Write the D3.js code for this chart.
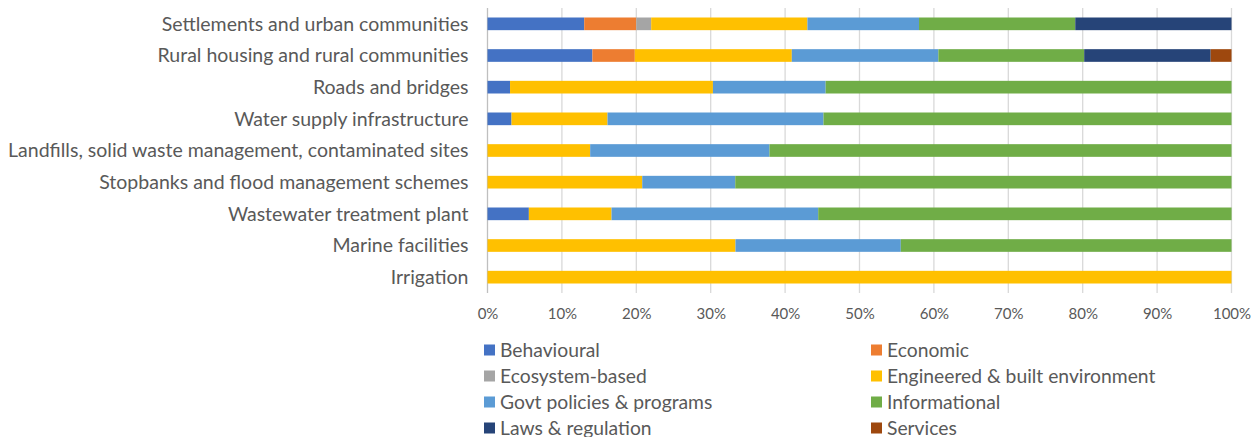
<!DOCTYPE html>
<html><head><meta charset="utf-8">
<script src="https://cdn.jsdelivr.net/npm/d3@7"></script>
<style>body{margin:0;background:#fff}svg{display:block}</style>
</head><body>
<svg id="c" width="1253" height="437"></svg>
<script>
const categories = ["Settlements and urban communities","Rural housing and rural communities","Roads and bridges","Water supply infrastructure","Landfills, solid waste management, contaminated sites","Stopbanks and flood management schemes","Wastewater treatment plant","Marine facilities","Irrigation"];
const seriesNames = ["Behavioural","Economic","Ecosystem-based","Engineered & built environment","Govt policies & programs","Informational","Laws & regulation","Services"];
const seriesColors = ["#4472C4","#ED7D31","#A5A5A5","#FFC000","#5B9BD5","#70AD47","#264478","#9E480E"];
const behavioural   = [13.0,14.1,3.03,3.23,0,0,5.56,0,0];
const economic      = [7.0,5.7,0,0,0,0,0,0,0];
const ecosystem     = [2.0,0,0,0,0,0,0,0,0];
const engineered    = [21.0,21.1,27.27,12.90,13.8,20.8,11.11,33.33,100];
const govt          = [15.0,19.7,15.15,29.03,24.1,12.5,27.78,22.22,0];
const informational = [21.0,19.6,54.55,54.84,62.1,66.7,55.56,44.45,0];
const laws          = [21.0,17.0,0,0,0,0,0,0,0];
const services      = [0,2.8,0,0,0,0,0,0,0];
const tickValues = [0,10,20,30,40,50,60,70,80,90,100];

const seriesVals = [behavioural,economic,ecosystem,engineered,govt,informational,laws,services];
const rows = categories.map((c,i)=>{const o={cat:c};seriesNames.forEach((s,j)=>o[s]=seriesVals[j][i]);return o;});
const stack = d3.stack().keys(seriesNames)(rows);

const svg = d3.select("#c");
const font = "Lato, 'Open Sans', sans-serif";
const x = d3.scaleLinear().domain([0,100]).range([487.5,1231.5]);
const y = d3.scaleBand().domain(categories).range([8,293]).paddingInner(0.6).paddingOuter(0.3);

// gridlines
svg.append("g").selectAll("line").data(tickValues).join("line")
  .attr("x1",d=>x(d)).attr("x2",d=>x(d)).attr("y1",8).attr("y2",293)
  .attr("stroke",d=>d===0?"#bfbfbf":"#d9d9d9").attr("stroke-width",1.3);

// bars
svg.append("g").selectAll("g").data(stack).join("g")
  .attr("fill",(d,i)=>seriesColors[i])
  .selectAll("rect").data(d=>d).join("rect")
  .attr("x",d=>x(d[0])).attr("width",d=>Math.max(0,x(d[1])-x(d[0])))
  .attr("y",d=>y(d.data.cat)).attr("height",y.bandwidth());

// category labels
svg.append("g").selectAll("text").data(categories).join("text")
  .attr("x",468.5).attr("y",d=>y(d)+y.bandwidth()/2).attr("dy","0.35em")
  .attr("text-anchor","end").attr("font-family",font).attr("font-size",19.5).attr("fill","#595959").text(d=>d);

// x axis labels
const xa = svg.append("g").attr("transform","translate(0,293)")
  .call(d3.axisBottom(x).tickValues(tickValues).tickFormat(d=>d+"%").tickSize(0).tickPadding(15));
xa.select(".domain").remove();
xa.selectAll("text").attr("font-family",font).attr("font-size",15).attr("fill","#595959");

// legend
const lg = svg.append("g").selectAll("g").data(seriesNames).join("g")
  .attr("transform",(d,i)=>`translate(${i%2===0?484:871},${350+Math.floor(i/2)*26})`);
lg.append("rect").attr("x",0).attr("y",-5.5).attr("width",11).attr("height",11).attr("fill",(d,i)=>seriesColors[i]);
lg.append("text").attr("x",16).attr("y",0).attr("dy","0.35em").attr("font-family",font).attr("font-size",19.3).attr("fill","#595959").text(d=>d);
</script>
</body></html>
